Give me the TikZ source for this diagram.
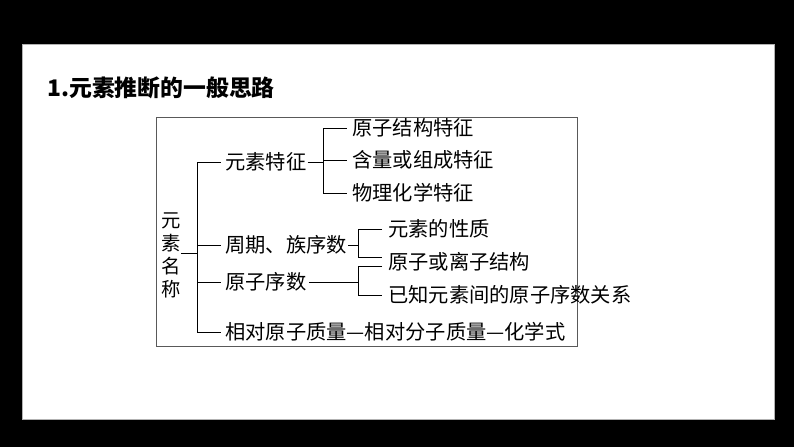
\documentclass[tikz,border=0pt]{standalone}
\usepackage{fontspec}
\newfontfamily\cjk{Noto Sans CJK SC}
\usetikzlibrary{positioning}
\begin{document}
\begin{tikzpicture}[x=0.03cm, y=-0.03cm,
    item/.style={anchor=west, inner sep=0pt, font=\cjk\fontsize{17.3}{20}\selectfont},
    link/.style={line width=0.8pt}]

        % frame
        \fill[black] (0,0) rectangle (794,447);
        \fill[white, draw=gray!60] (22,44) rectangle (774,419);
        \node[anchor=west, inner sep=0pt, font=\cjk\bfseries\fontsize{19.5}{22}\selectfont] (title) at (47,88) {1.元素推断的一般思路};
        \draw[gray!70!black, line width=0.7pt] (156,117) rectangle (577,346);

        % root
        \node[inner sep=0pt, align=center, font=\cjk\fontsize{16.5}{19.6}\selectfont] (root) at (171,255) {元\\素\\名\\称};
        \coordinate (trunk) at (197,253);
        \draw[link] (root.east |- trunk) -- (trunk);
        \draw[link] (197,162) -- (197,332);

        % first level
        \node[item] (feat) at (225,162) {元素特征};
        \node[item] (period) at (225,245) {周期、族序数};
        \node[item] (number) at (225,282) {原子序数};
        \node[item] (mass) at (225,332) {相对原子质量—相对分子质量—化学式};
        \foreach \n in {feat,period,number,mass}
            \draw[link] (197,0 |- \n.west) -- ([xshift=-3pt]\n.west);

        % element features
        \node[item] (struct) at (352,128) {原子结构特征};
        \node[item] (content) at (352,160) {含量或组成特征};
        \node[item] (phys) at (352,193) {物理化学特征};
        \draw[link] ([xshift=1pt]feat.east) -- (323,162);
        \draw[link] (323,128) -- (323,193);
        \foreach \n in {struct,content,phys}
            \draw[link] (323,0 |- \n.west) -- ([xshift=-4pt]\n.west);

        % period and group
        \node[item] (prop) at (388,229) {元素的性质};
        \node[item] (ion) at (388,262) {原子或离子结构};
        \node[item] (known) at (388,295) {已知元素间的原子序数关系};
        \draw[link] ([xshift=1pt]period.east) -- (358,245);
        \draw[link] (382,229) -| (358,257) -- (382,257);

        % atomic number
        \draw[link] ([xshift=2pt]number.east) -- (358,282);
        \draw[link] (382,266) -| (358,295) -- (382,295);
\end{tikzpicture}
\end{document}
